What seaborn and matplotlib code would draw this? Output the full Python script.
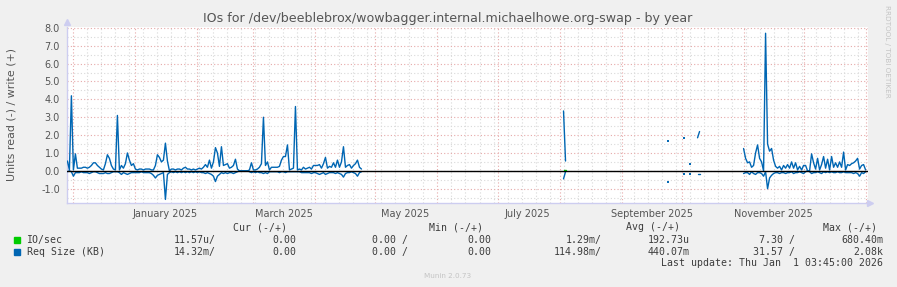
import numpy as np
import pandas as pd
import matplotlib
matplotlib.use("Agg")
import matplotlib.pyplot as plt
import matplotlib.dates as mdates
from matplotlib.ticker import MultipleLocator, FormatStrFormatter, NullFormatter
import seaborn as sns

# ---------------- data (daily values, day offsets relative to 2025-01-01) ----------------
BASE = pd.Timestamp("2025-01-01")

seg1_start = -34
req_write_1 = [0.55, 0.05, 4.2, 0.05, 0.95, 0.15, 0.15, 0.15, 0.2, 0.2,
               0.15, 0.2, 0.3, 0.45, 0.45, 0.3, 0.2, 0.1, 0.05, 0.4,
               0.9, 0.7, 0.3, 0.1, 0.05, 3.1, 0.05, 0.3, 0.15, 0.4,
               1.0, 0.6, 0.3, 0.4, 0.1, 0.05, 0.1, 0.1, 0.05, 0.1,
               0.1, 0.1, 0.05, 0.05, 0.3, 0.9, 0.75, 0.5, 0.6, 1.55,
               0.55, 0.0, 0.1, 0.1, 0.05, 0.1, 0.1, 0.05, 0.15, 0.2,
               0.1, 0.1, 0.05, 0.1, 0.05, 0.1, 0.15, 0.1, 0.2, 0.35,
               0.2, 0.6, 0.15, 0.5, 1.3, 1.0, 0.25, 1.35, 0.3, 0.35,
               0.4, 0.15, 0.2, 0.3, 0.65, 0.1, 0.0, 0.0, 0.0, 0.0,
               0.0, 0.05, 0.45, 0.05, 0.05, 0.1, 0.2, 0.4, 3.0, 0.3,
               0.5, 0.05, 0.2, 0.2, 0.2, 0.2, 0.25, 0.6, 0.8, 0.8,
               1.45, 0.05, 0.1, 0.15, 3.6, 0.05, 0.1, 0.05, 0.2, 0.1,
               0.15, 0.2, 0.1, 0.3, 0.3, 0.3, 0.35, 0.15, 0.4, 0.75,
               0.15, 0.25, 0.2, 0.45, 0.2, 0.6, 0.2, 0.5, 1.35, 0.2,
               0.3, 0.35, 0.15, 0.3, 0.4, 0.6, 0.2, 0.1]
req_read_1 = [-0.05, 0.0, -0.05, -0.3, -0.1, -0.1, -0.1, -0.05, -0.1, -0.1,
              -0.1, -0.15, -0.1, -0.05, -0.05, -0.1, -0.15, -0.15, -0.15, -0.1,
              -0.15, -0.15, -0.1, -0.05, -0.05, -0.05, -0.1, -0.2, -0.1, -0.15,
              -0.2, -0.15, -0.1, -0.1, -0.1, -0.1, -0.1, -0.05, -0.1, -0.1,
              -0.1, -0.1, -0.15, -0.25, -0.4, -0.25, -0.2, -0.15, -0.1, -1.6,
              -0.2, -0.1, -0.05, -0.1, -0.05, -0.1, -0.05, -0.1, -0.05, -0.1,
              -0.05, -0.1, -0.05, -0.1, -0.05, -0.1, -0.05, -0.1, -0.1, -0.15,
              -0.1, -0.15, -0.2, -0.3, -0.6, -0.3, -0.2, -0.1, -0.15, -0.1,
              -0.15, -0.1, -0.1, -0.15, -0.1, -0.05, 0.0, 0.0, 0.0, 0.0,
              0.0, -0.05, -0.1, -0.05, -0.1, -0.05, -0.1, -0.1, -0.15, -0.1,
              -0.15, -0.05, -0.05, -0.05, -0.05, -0.05, -0.1, -0.05, -0.05, -0.1,
              -0.05, -0.05, -0.05, -0.05, -0.05, -0.05, -0.05, -0.1, -0.1, -0.1,
              -0.1, -0.1, -0.15, -0.1, -0.1, -0.15, -0.2, -0.15, -0.1, -0.2,
              -0.15, -0.1, -0.1, -0.1, -0.15, -0.1, -0.15, -0.2, -0.35, -0.15,
              -0.1, -0.1, -0.05, -0.1, -0.15, -0.3, -0.1, -0.05]

seg2_start = 214
req_write_2 = [3.35, 0.55]
req_read_2 = [-0.45, -0.05]
io_write_2 = [0.03, 0.03]

dot_days = [266, 274, 277]
dot_write = [1.68, 1.84, 0.38]
dot_read = [-0.64, -0.19, -0.19]

seg3_start = 281
req_write_3 = [1.85, 2.2]
req_read_3 = [-0.19, -0.19]

seg4_start = 304
req_write_4 = [1.25, 0.7, 0.45, 0.5, 0.2, 0.3, 1.0, 1.45, 0.7, 0.5,
               0.0, 7.7, 1.5, 1.1, 1.25, 0.6, 0.25, 0.15, 0.25, 0.05,
               0.3, 0.15, 0.35, 0.15, 0.5, 0.15, 0.45, 0.05, 0.25, 0.05,
               0.3, 0.3, 0.0, 0.0, 0.95, 0.45, 0.1, 0.7, 0.05, 0.35,
               0.8, 0.15, 0.65, 0.05, 0.8, 0.2, 0.45, 0.2, 0.5, 0.2,
               1.05, 0.05, 0.35, 0.3, 0.4, 0.45, 0.55, 0.7, 0.1, 0.3,
               0.35, 0.05]
req_read_4 = [-0.15, -0.1, -0.1, -0.2, -0.05, -0.15, -0.2, -0.1, -0.1, -0.15,
              -0.3, -0.05, -1.0, -0.4, -0.25, -0.15, -0.1, -0.1, -0.15, -0.1,
              -0.1, -0.15, -0.1, -0.1, -0.05, -0.15, -0.1, -0.1, -0.05, -0.1,
              -0.15, -0.05, 0.0, -0.05, -0.15, -0.1, -0.1, -0.05, -0.1, -0.15,
              -0.05, -0.1, -0.05, -0.1, -0.05, -0.1, -0.1, -0.05, -0.1, -0.1,
              -0.05, -0.1, -0.1, -0.1, -0.1, -0.15, -0.1, -0.15, -0.3, -0.1,
              -0.15, -0.05]

series_names = ["IO/sec", "Req Size (KB)"]
series_colors = ["#00CC00", "#0066B3"]

legend_header = ["Cur (-/+)", "Min (-/+)", "Avg (-/+)", "Max (-/+)"]
legend_rows = [
    ["11.57u/", "0.00", "0.00 /", "0.00", "1.29m/", "192.73u", "7.30 /", "680.40m"],
    ["14.32m/", "0.00", "0.00 /", "0.00", "114.98m/", "440.07m", "31.57 /", "2.08k"],
]
title = "IOs for /dev/beeblebrox/wowbagger.internal.michaelhowe.org-swap - by year"
ylabel = "Units read (-) / write (+)"
last_update = "Last update: Thu Jan  1 03:45:00 2026"

# ---------------- build long tables ----------------
def days(start, n):
    return BASE + pd.to_timedelta(np.arange(start, start + n), unit="D")

frames = []
def add(start, vals, unit):
    frames.append(pd.DataFrame({"date": days(start, len(vals)), "value": vals, "unit": unit}))

add(seg1_start, req_write_1, "w1")
add(seg1_start, req_read_1, "r1")
add(seg2_start, req_write_2, "w2")
add(seg2_start, req_read_2, "r2")
add(seg3_start, req_write_3, "w3")
add(seg3_start, req_read_3, "r3")
add(seg4_start, req_write_4, "w4")
add(seg4_start, req_read_4, "r4")
req_df = pd.concat(frames, ignore_index=True)

io_df = pd.DataFrame({"date": days(seg2_start, len(io_write_2)), "value": io_write_2})

dots = pd.DataFrame({
    "date": list(BASE + pd.to_timedelta(dot_days, unit="D")) * 2,
    "value": dot_write + dot_read,
})

# ---------------- figure ----------------
W, H = 897, 287
sns.set_style("white")
plt.rcParams["axes.unicode_minus"] = False
plt.rcParams["font.family"] = ["DejaVu Sans"]

fig = plt.figure(figsize=(W / 100, H / 100), dpi=100)
fig.patch.set_facecolor("#F0F0F0")

L, R, T, B = 67, 868, 27, 203
ax = fig.add_axes([L / W, (H - B) / H, (R - L) / W, (B - T) / H])
ax.set_facecolor("#FFFFFF")

MAJ = "#E6A9A9"
MIN = "#D9D9D9"
AXC = "#CDCDF0"
TXT = "#555555"

ax.set_xlim(BASE + pd.Timedelta(days=-34.2), BASE + pd.Timedelta(days=366.2))
ax.set_ylim(-1.8, 8.05)

ax.xaxis.set_major_locator(mdates.MonthLocator())
ax.xaxis.set_minor_locator(mdates.WeekdayLocator(byweekday=mdates.SU))
ax.xaxis.set_major_formatter(NullFormatter())
ax.xaxis.set_minor_formatter(NullFormatter())
ax.yaxis.set_major_locator(MultipleLocator(1.0))
ax.yaxis.set_minor_locator(MultipleLocator(0.5))
ax.yaxis.set_major_formatter(FormatStrFormatter("%.1f"))

ax.grid(which="minor", color=MIN, linestyle=(0, (1, 2)), linewidth=0.8)
ax.grid(which="major", color=MAJ, linestyle=(0, (1, 2)), linewidth=0.8)
ax.set_axisbelow(True)

ax.tick_params(axis="x", which="major", direction="out", length=2.5, width=0.8, color="#D08080")
ax.tick_params(axis="x", which="minor", direction="out", length=1.5, width=0.8, color="#BBBBBB")
ax.tick_params(axis="y", which="major", direction="out", length=2, width=0.8, color="#D08080",
               labelsize=7, labelcolor=TXT, pad=3)
ax.tick_params(axis="y", which="minor", direction="out", length=1.5, width=0.8, color="#BBBBBB")

for s in ["top", "right"]:
    ax.spines[s].set_visible(False)
for s in ["left", "bottom"]:
    ax.spines[s].set_color(AXC)
    ax.spines[s].set_linewidth(1.0)

# data lines
sns.lineplot(data=io_df, x="date", y="value", color=series_colors[0],
             linewidth=1.0, ax=ax, zorder=2, legend=False)
sns.lineplot(data=req_df, x="date", y="value", units="unit", estimator=None,
             color=series_colors[1], legend=False, linewidth=1.0, sort=False, ax=ax, zorder=3)
sns.scatterplot(data=dots, x="date", y="value", marker="_", color=series_colors[1],
                s=4, linewidth=1.4, ax=ax, zorder=3, legend=False)
ax.axhline(0, color="black", linewidth=1.0, zorder=4)

ax.set_xlabel("")
ax.set_ylabel("")

# month labels on a secondary axis (mid-month)
sec = ax.secondary_xaxis("bottom")
sec.xaxis.set_major_locator(mdates.MonthLocator(bymonth=[1, 3, 5, 7, 9, 11], bymonthday=16))
sec.xaxis.set_major_formatter(mdates.DateFormatter("%B %Y"))
sec.tick_params(length=0, labelsize=7, labelcolor=TXT, pad=4)
sec.spines["bottom"].set_visible(False)

# axis arrows
ax.plot([0], [1.03], marker="^", transform=ax.transAxes, color=AXC, ms=4.5, clip_on=False, zorder=5)
ax.plot([1.003], [0], marker=">", transform=ax.transAxes, color=AXC, ms=4.5, clip_on=False, zorder=5)

def fx(x):
    return x / W
def fy(y):
    return 1 - y / H

fig.text(fx(448), fy(18.5), title, ha="center", va="center", fontsize=9.1, color=TXT)
fig.text(fx(11.5), fy(114), ylabel, ha="center", va="center", rotation=90, fontsize=7.9, color=TXT)
fig.text(fx(887), fy(5), "RRDTOOL / TOBI OETIKER", ha="center", va="top", rotation=270,
         fontsize=5.2, color="#C4C4C4")

MONO = "DejaVu Sans Mono"
MS = 7.15
LC = "#3C3C3C"
header_ends = [287, 483, 680, 877]
for txt, xe in zip(legend_header, header_ends):
    fig.text(fx(xe), fy(227.5), txt, ha="right", va="center", family=MONO, fontsize=MS, color=LC)

col_ends = [216, 296, 408, 491, 602, 690, 795, 883]
row_y = [240, 251.7]
for name, color, vals, y in zip(series_names, series_colors, legend_rows, row_y):
    fig.patches.append(matplotlib.patches.Rectangle((fx(14), fy(y + 3)), 6 / W, 6 / H,
                                                    transform=fig.transFigure, color=color))
    fig.text(fx(26.5), fy(y), name, ha="left", va="center", family=MONO, fontsize=MS, color=LC)
    for v, xe in zip(vals, col_ends):
        fig.text(fx(xe), fy(y), v, ha="right", va="center", family=MONO, fontsize=MS, color=LC)

fig.text(fx(883), fy(263.3), last_update, ha="right", va="center", family=MONO, fontsize=MS, color=LC)
fig.text(fx(448), fy(276), "Munin 2.0.73", ha="center", va="center", fontsize=5.2, color="#C4C4C4")

fig.savefig("out.png", dpi=100, facecolor=fig.get_facecolor())
